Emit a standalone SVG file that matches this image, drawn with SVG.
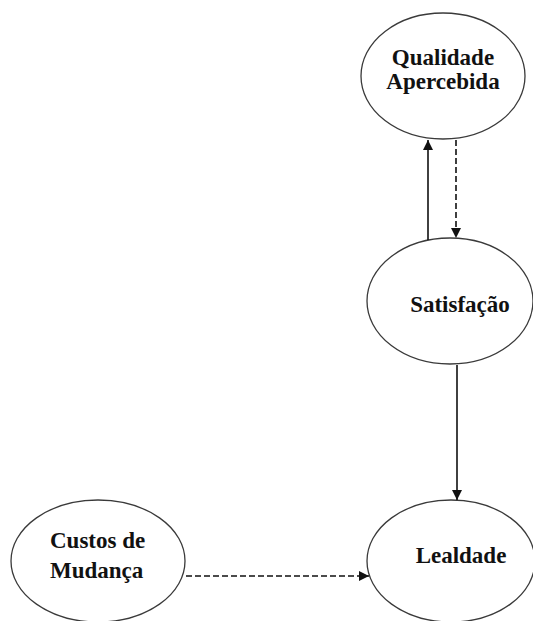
<svg xmlns="http://www.w3.org/2000/svg" width="533" height="621" viewBox="0 0 533 621">
  <style>
    .node ellipse { fill: #ffffff; stroke: #3a3a3a; stroke-width: 1.3; }
    .node text { font-family: "Liberation Serif", "Times New Roman", serif; font-size: 23px; font-weight: bold; fill: #111111; }
    .mid { text-anchor: middle; }
    .edge { fill: none; stroke: #111111; stroke-width: 1.6; }
    .dashed { stroke-dasharray: 6 3; }
  </style>
  <defs>
    <marker id="head" viewBox="0 0 10 10" refX="10" refY="5" markerWidth="10" markerHeight="10" markerUnits="userSpaceOnUse" orient="auto">
      <path d="M0,0 L10,5 L0,10 Z" fill="#111111"/>
    </marker>
  </defs>

  <rect width="533" height="621" fill="#ffffff"/>

  <g id="qualidade" class="node">
    <ellipse cx="443" cy="76" rx="82" ry="63"/>
    <text class="mid" x="443" y="65">Qualidade</text>
    <text class="mid" x="443" y="89">Apercebida</text>
  </g>

  <g id="satisfacao" class="node">
    <ellipse cx="450" cy="301" rx="83" ry="63"/>
    <text class="mid" x="460" y="312">Satisfação</text>
  </g>

  <g id="custos" class="node">
    <ellipse cx="98" cy="561" rx="87" ry="61"/>
    <text x="50" y="548">Custos de</text>
    <text x="50" y="578">Mudança</text>
  </g>

  <g id="lealdade" class="node">
    <ellipse cx="451" cy="561" rx="84" ry="61"/>
    <text class="mid" x="461" y="563">Lealdade</text>
  </g>

  <g id="connectors">
    <!-- Satisfação -> Qualidade Apercebida (solid) -->
    <line class="edge" x1="428" y1="240" x2="428" y2="140" marker-end="url(#head)"/>
    <!-- Qualidade Apercebida -> Satisfação (dashed) -->
    <line class="edge dashed" x1="456" y1="140" x2="456" y2="238" marker-end="url(#head)"/>
    <!-- Satisfação -> Lealdade (solid) -->
    <line class="edge" x1="457" y1="365" x2="457" y2="500" marker-end="url(#head)"/>
    <!-- Custos de Mudança -> Lealdade (dashed) -->
    <line class="edge dashed" x1="186" y1="576" x2="369" y2="576" marker-end="url(#head)"/>
  </g>
</svg>
